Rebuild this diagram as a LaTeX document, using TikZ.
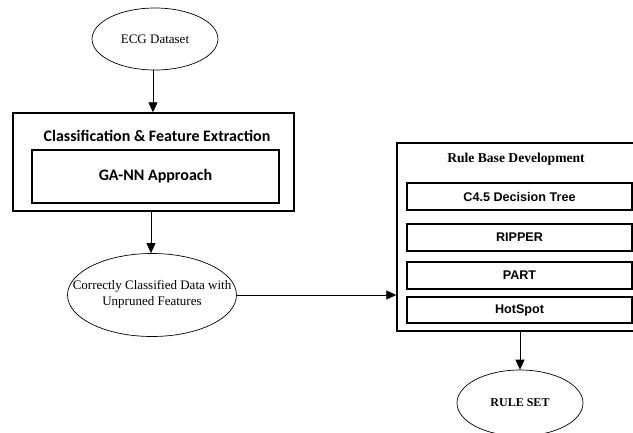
\documentclass[tikz,border=0pt]{standalone}
\usepackage{fontspec}
\setmainfont{Liberation Serif}
\newfontfamily\carlito{Carlito}
\newfontfamily\arialf{Liberation Sans}
\usetikzlibrary{arrows.meta,shapes.geometric}
\begin{document}
\begin{tikzpicture}[x=1pt,y=-1pt,
  oval/.style={draw, ellipse, line width=0.7pt, inner sep=0pt},
  ovaltext/.style={align=center, inner sep=0pt, font=\fontsize{13}{16}\selectfont},
  frame/.style={draw, rectangle, line width=1.4pt, inner sep=0pt},
  innerbox/.style={draw, rectangle, line width=1.4pt, inner sep=0pt},
  algbox/.style={innerbox, minimum width=225pt, minimum height=27pt, font=\arialf\bfseries\fontsize{12.6}{14}\selectfont},
  arr/.style={line width=0.8pt, -{Triangle[width=9pt,length=10pt]}}]
\useasboundingbox (0,0) rectangle (633,432);

\node[oval, minimum width=126pt, minimum height=62pt] (ecg) at (155,39) {};
\node[ovaltext] (ecgtext) at (ecg.center) {ECG Dataset};

\node[frame, minimum width=281pt, minimum height=98pt] (classbox) at (153.5,162) {};
\node[font=\carlito\bfseries\fontsize{16}{18}\selectfont] (classtitle) at (157,136) {Classification \& Feature Extraction};
\node[innerbox, minimum width=247pt, minimum height=53pt, font=\carlito\bfseries\fontsize{16}{18}\selectfont] (gann) at (155.5,176.5) {GA-NN Approach};

\node[oval, minimum width=169pt, minimum height=83pt] (cc) at (152,295) {};
\node[ovaltext] (cctext) at (152,294) {Correctly Classified Data with\\Unpruned Features};

\node[frame, minimum width=238pt, minimum height=188pt] (rulebox) at (516,237) {};
\node[font=\bfseries\fontsize{13.6}{15}\selectfont] (ruletitle) at (516,159) {Rule Base Development};
\node[algbox] (c45) at (519.5,196.5) {C4.5 Decision Tree};
\node[algbox] (ripper) at (519.5,237.5) {RIPPER};
\node[algbox] (part) at (519.5,275.5) {PART};
\node[algbox, minimum height=26pt] (hotspot) at (519.5,310) {HotSpot};

\node[oval, minimum width=126pt, minimum height=66pt] (ruleset) at (520,403) {};
\node[ovaltext, font=\bfseries\fontsize{12}{14}\selectfont] (rulesettext) at (ruleset.center) {RULE SET};

\draw[arr] (ecg.south -| 153,0) -- (classbox.north -| 153,0);
\draw[arr] (classbox.south -| 151,0) -- (cc.north -| 151,0);
\draw[arr] (cc.east) -- (cc.east -| rulebox.west);
\draw[arr] (rulebox.south -| ruleset.north) -- (ruleset.north);
\end{tikzpicture}
\end{document}
